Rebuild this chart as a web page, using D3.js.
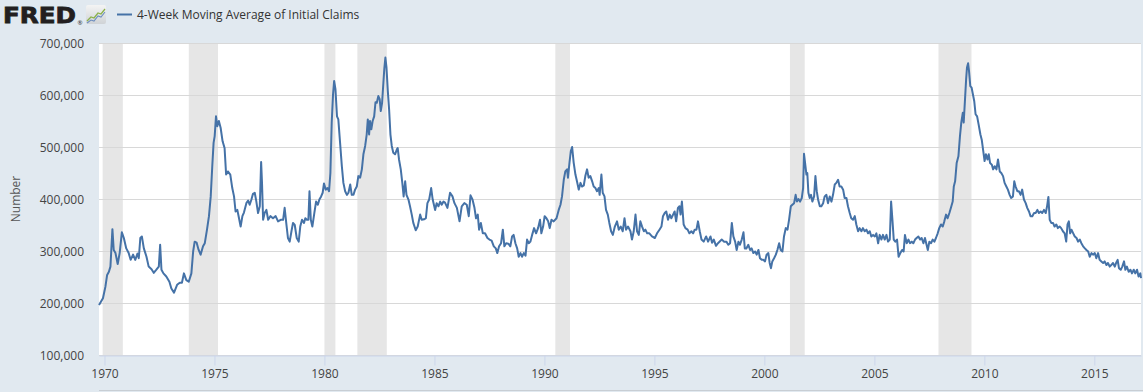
<!DOCTYPE html>
<html>
<head>
<meta charset="utf-8">
<script src="https://cdn.jsdelivr.net/npm/d3@7"></script>
<style>
  html, body { margin: 0; padding: 0; background: #e1e9f0; }
  svg { display: block; font-family: "Open Sans", "DejaVu Sans", sans-serif; }
</style>
</head>
<body>
<svg id="chart" width="1143" height="392"></svg>
<script>
// ---------------- DATA ----------------
const seriesName = "4-Week Moving Average of Initial Claims";
const yAxisTitle = "Number";

// decimal year of observation
const obsYear = [
1969.75,1969.93,1970.04,1970.12,1970.2,1970.27,1970.36,1970.42,1970.5,1970.6,1970.69,1970.79,1970.88,1970.99,
1971.1,1971.19,1971.3,1971.4,1971.5,1971.56,1971.63,1971.7,1971.79,1971.91,
1972.01,1972.14,1972.24,1972.36,1972.47,1972.53,1972.59,1972.68,1972.81,1972.95,
1973.04,1973.16,1973.3,1973.42,1973.52,1973.61,1973.72,1973.83,1973.95,
1974.03,1974.1,1974.19,1974.28,1974.37,1974.48,1974.56,1974.66,1974.75,1974.83,1974.9,1974.96,
1975.01,1975.07,1975.13,1975.2,1975.28,1975.37,1975.46,1975.53,1975.61,1975.72,1975.81,1975.89,1975.96,
1976.04,1976.13,1976.19,1976.27,1976.34,1976.45,1976.53,1976.6,1976.68,1976.75,1976.83,1976.9,1976.98,
1977.06,1977.12,1977.16,1977.21,1977.28,1977.36,1977.44,1977.54,1977.66,1977.78,1977.89,
1978.01,1978.12,1978.19,1978.27,1978.34,1978.42,1978.5,1978.57,1978.65,1978.74,1978.83,1978.9,1978.98,
1979.07,1979.13,1979.2,1979.27,1979.32,1979.38,1979.45,1979.54,1979.62,1979.7,1979.77,1979.85,1979.92,1979.98,
1980.06,1980.14,1980.21,1980.27,1980.33,1980.39,1980.44,1980.5,1980.57,1980.63,1980.71,1980.79,1980.86,1980.94,
1981.02,1981.09,1981.17,1981.24,1981.32,1981.39,1981.47,1981.54,1981.62,1981.7,1981.77,1981.85,1981.92,1981.97,
1982.03,1982.07,1982.13,1982.19,1982.26,1982.32,1982.38,1982.45,1982.51,1982.56,1982.62,1982.68,1982.72,1982.77,1982.82,1982.88,1982.94,
1983.0,1983.06,1983.13,1983.21,1983.29,1983.33,1983.39,1983.47,1983.54,1983.6,1983.67,1983.73,1983.82,1983.89,1983.97,
1984.04,1984.15,1984.24,1984.35,1984.42,1984.53,1984.61,1984.68,1984.76,1984.85,1984.92,
1985.03,1985.1,1985.18,1985.26,1985.33,1985.41,1985.48,1985.59,1985.71,1985.82,1985.91,
1986.02,1986.14,1986.24,1986.36,1986.47,1986.56,1986.64,1986.73,1986.82,1986.89,1986.97,
1987.03,1987.11,1987.2,1987.3,1987.41,1987.5,1987.6,1987.7,1987.79,1987.86,1987.94,
1988.03,1988.11,1988.18,1988.26,1988.36,1988.45,1988.53,1988.6,1988.68,1988.76,1988.83,1988.91,1988.98,
1989.06,1989.14,1989.21,1989.29,1989.36,1989.44,1989.53,1989.62,1989.71,1989.8,1989.86,1989.94,
1990.01,1990.09,1990.17,1990.24,1990.32,1990.42,1990.55,1990.65,1990.73,1990.8,1990.88,1990.95,
1991.03,1991.07,1991.14,1991.2,1991.26,1991.33,1991.41,1991.48,1991.56,1991.64,1991.71,1991.79,1991.86,1991.94,
1992.01,1992.09,1992.17,1992.24,1992.32,1992.39,1992.47,1992.51,1992.59,1992.65,1992.73,1992.8,1992.88,1992.95,
1993.03,1993.11,1993.2,1993.3,1993.38,1993.47,1993.56,1993.64,1993.71,1993.8,1993.91,1993.98,
1994.06,1994.14,1994.21,1994.29,1994.36,1994.44,1994.52,1994.59,1994.67,1994.77,1994.89,
1995.02,1995.12,1995.23,1995.32,1995.39,1995.47,1995.54,1995.62,1995.7,1995.77,1995.85,1995.92,1995.99,
1996.07,1996.14,1996.19,1996.25,1996.33,1996.41,1996.51,1996.59,1996.68,1996.76,1996.83,1996.91,1996.98,
1997.06,1997.14,1997.24,1997.35,1997.44,1997.55,1997.62,1997.7,1997.8,1997.89,
1998.06,1998.17,1998.27,1998.36,1998.44,1998.52,1998.59,1998.67,1998.74,1998.82,1998.89,1998.97,
1999.05,1999.11,1999.18,1999.27,1999.35,1999.42,1999.5,1999.58,1999.65,1999.73,1999.8,1999.88,1999.95,
2000.03,2000.1,2000.18,2000.24,2000.3,2000.36,2000.44,2000.52,2000.59,2000.67,2000.74,2000.82,2000.89,2000.97,
2001.05,2001.12,2001.2,2001.27,2001.35,2001.42,2001.48,2001.55,2001.62,2001.7,2001.76,2001.8,2001.85,2001.91,2001.95,
2002.0,2002.06,2002.12,2002.18,2002.26,2002.32,2002.38,2002.44,2002.52,2002.59,2002.67,2002.74,2002.82,2002.89,2002.97,
2003.05,2003.12,2003.2,2003.27,2003.35,2003.42,2003.5,2003.58,2003.65,2003.73,2003.8,2003.88,2003.95,
2004.03,2004.11,2004.18,2004.26,2004.33,2004.41,2004.48,2004.56,2004.64,2004.71,2004.79,2004.86,2004.94,
2005.02,2005.09,2005.17,2005.24,2005.32,2005.39,2005.47,2005.55,2005.62,2005.7,2005.76,2005.82,2005.88,2005.95,
2006.03,2006.1,2006.18,2006.26,2006.33,2006.39,2006.47,2006.55,2006.62,2006.7,2006.77,2006.85,2006.92,
2007.0,2007.08,2007.15,2007.23,2007.3,2007.43,2007.5,2007.58,2007.65,2007.73,2007.8,2007.88,2007.95,
2008.03,2008.11,2008.18,2008.26,2008.33,2008.41,2008.48,2008.56,2008.61,2008.67,2008.74,2008.82,2008.89,2008.95,
2009.02,2009.06,2009.12,2009.17,2009.21,2009.26,2009.3,2009.36,2009.42,2009.48,2009.54,2009.6,2009.67,2009.74,2009.82,2009.88,2009.95,
2010.01,2010.07,2010.14,2010.2,2010.26,2010.34,2010.4,2010.47,2010.55,2010.62,2010.7,2010.77,2010.85,2010.92,
2011.0,2011.07,2011.15,2011.22,2011.3,2011.36,2011.42,2011.5,2011.57,2011.65,2011.72,2011.8,2011.88,2011.95,
2012.03,2012.1,2012.18,2012.26,2012.33,2012.41,2012.48,2012.56,2012.63,2012.71,2012.79,2012.85,2012.91,2012.97,
2013.04,2013.12,2013.19,2013.27,2013.34,2013.42,2013.49,2013.57,2013.65,2013.72,2013.78,2013.84,2013.9,2013.96,
2014.04,2014.11,2014.19,2014.26,2014.34,2014.41,2014.49,2014.57,2014.64,2014.72,2014.79,2014.87,2014.94,
2015.02,2015.09,2015.17,2015.24,2015.32,2015.4,2015.47,2015.55,2015.62,2015.7,2015.77,2015.85,2015.93,
2016.0,2016.06,2016.12,2016.2,2016.27,2016.35,2016.41,2016.48,2016.56,2016.64,2016.71,2016.79,2016.86,2016.94,
2017.01,2017.09,2017.12
];

// 4-week moving average of initial claims, thousands
const claimsK = [
196,209,231,254,260,270,342,302,296,275,296,336,325,305,
296,283,293,283,295,286,325,328,305,289,
270,265,258,264,270,312,264,257,251,241,
228,220,235,239,239,257,244,241,257,
299,318,316,302,293,309,315,341,367,405,463,508,
521,559,540,550,537,511,498,447,453,447,421,405,376,
379,360,347,367,374,392,397,389,399,410,412,396,373,
386,471,431,360,373,379,360,367,363,367,357,
360,360,383,351,325,318,338,354,350,325,318,347,360,
354,363,360,360,415,360,347,373,395,389,399,405,412,430,
418,421,415,450,547,601,627,611,559,553,508,463,431,415,
408,412,428,408,408,418,424,444,441,457,486,502,524,553,
524,550,534,550,559,586,585,598,592,569,585,624,650,672,653,608,572,
524,502,489,486,495,498,476,457,431,405,434,408,399,386,370,
354,340,347,370,360,361,363,392,399,421,399,
379,392,386,395,389,395,393,383,412,405,392,
383,357,386,392,389,367,407,399,383,363,370,
341,354,334,334,325,322,320,309,305,296,309,
315,341,309,315,314,309,328,331,315,305,289,296,289,
296,291,322,315,318,331,344,334,344,360,334,347,
367,363,357,344,360,357,363,379,389,405,437,453,
457,441,470,492,500,470,447,434,418,431,424,426,444,457,
441,444,434,424,421,415,421,408,447,412,405,379,370,354,
338,331,347,357,341,347,338,363,341,347,338,322,
338,370,338,331,357,347,338,341,334,334,328,
325,334,341,347,367,373,376,360,370,363,370,376,357,
383,386,370,395,351,344,341,334,338,334,341,341,357,
338,322,318,328,318,328,316,322,310,315,
322,318,318,312,315,354,328,318,302,318,312,322,
336,305,305,312,302,305,296,299,293,302,286,283,283,
280,293,296,277,267,280,286,293,302,315,302,299,328,344,
341,360,386,389,392,408,395,400,395,402,421,487,469,447,450,
412,402,408,395,405,444,415,399,386,386,392,405,408,392,405,
395,408,428,431,437,424,424,418,402,402,386,373,363,
360,367,351,338,344,338,344,338,341,334,338,328,331,
328,334,315,331,322,331,322,331,318,322,395,360,322,318,
322,289,296,302,299,331,315,322,315,318,315,322,325,
328,322,325,315,325,302,318,315,322,318,325,334,344,
351,347,357,370,363,373,383,395,424,434,469,482,521,547,
566,547,592,630,653,661,647,617,614,601,588,563,559,543,524,514,492,
473,486,476,486,469,466,457,463,457,476,453,450,444,431,
424,418,408,402,405,434,424,415,415,408,418,399,392,383,
376,367,367,373,373,379,373,376,373,379,373,386,404,360,
354,354,347,351,344,347,344,338,334,318,351,357,334,341,
334,328,325,318,322,315,309,305,302,299,289,296,293,
296,286,296,283,280,277,280,273,277,270,273,277,270,
278,283,267,264,270,280,264,270,260,264,257,264,257,264,
251,257,248
];

// NBER recessions (shaded)
const recessionStart = ["1969-12-01","1973-11-01","1980-01-01","1981-07-01","1990-07-01","2001-03-01","2007-12-01"];
const recessionEnd   = ["1970-11-01","1975-03-01","1980-07-01","1982-11-01","1991-03-01","2001-11-01","2009-06-01"];

const xTickYears  = [1970,1975,1980,1985,1990,1995,2000,2005,2010,2015];
const yTickValues = [100000,200000,300000,400000,500000,600000,700000];

// ---------------- DRAW ----------------
function yearToDate(y) {
  const yr = Math.floor(y);
  const a = Date.UTC(yr, 0, 1), b = Date.UTC(yr + 1, 0, 1);
  return new Date(a + (y - yr) * (b - a));
}
const data = obsYear.map((y, i) => ({ date: yearToDate(y), value: claimsK[i] * 1000 }));
const recessions = recessionStart.map((s, i) => ({ start: new Date(s + "T00:00:00Z"), end: new Date(recessionEnd[i] + "T00:00:00Z") }));

const W = 1143, H = 392;
const plot = { left: 99, right: 1141, top: 43, bottom: 355 };

const svg = d3.select("#chart");
svg.append("rect").attr("width", W).attr("height", H).attr("fill", "#e1e9f0");

const x = d3.scaleUtc()
  .domain(d3.extent(data, d => d.date))
  .range([plot.left, plot.right]);
const y = d3.scaleLinear()
  .domain([100000, 700000])
  .range([plot.bottom, plot.top]);

// plot background
svg.append("rect")
  .attr("x", plot.left).attr("y", plot.top)
  .attr("width", plot.right - plot.left).attr("height", plot.bottom - plot.top)
  .attr("fill", "#ffffff");

// recession shading
svg.append("g").selectAll("rect").data(recessions).join("rect")
  .attr("x", d => x(d.start))
  .attr("width", d => x(d.end) - x(d.start))
  .attr("y", plot.top)
  .attr("height", plot.bottom - plot.top)
  .attr("fill", "#e6e6e6");

// gridlines
svg.append("g").selectAll("line").data(yTickValues).join("line")
  .attr("x1", plot.left).attr("x2", plot.right)
  .attr("y1", d => Math.round(y(d)) + 0.5).attr("y2", d => Math.round(y(d)) + 0.5)
  .attr("stroke", "#d8d8d8").attr("stroke-width", 1);

// y axis labels
const fmt = d3.format(",");
svg.append("g").selectAll("text").data(yTickValues).join("text")
  .attr("x", 84)
  .attr("y", d => y(d) + 4.5)
  .attr("text-anchor", "end")
  .attr("font-size", 12)
  .attr("fill", "#444")
  .text(d => fmt(d));

// y axis title
svg.append("text")
  .attr("transform", `translate(20,${(plot.top + plot.bottom) / 2}) rotate(-90)`)
  .attr("text-anchor", "middle")
  .attr("font-size", 12)
  .attr("fill", "#555")
  .text(yAxisTitle);

// x axis
const xTickDates = xTickYears.map(yr => new Date(Date.UTC(yr, 0, 1)));
const xAxis = d3.axisBottom(x)
  .tickValues(xTickDates)
  .tickSize(10)
  .tickSizeOuter(0)
  .tickPadding(4)
  .tickFormat(d3.utcFormat("%Y"));
const gx = svg.append("g")
  .attr("transform", `translate(0,${plot.bottom + 0.5})`)
  .call(xAxis);
gx.select(".domain").attr("stroke", "#ccd6eb");
gx.selectAll(".tick line").attr("stroke", "#ccd6eb");
gx.selectAll(".tick text")
  .attr("font-family", "'Open Sans', sans-serif")
  .attr("font-size", 12)
  .attr("fill", "#444");

// series line
const line = d3.line()
  .x(d => x(d.date))
  .y(d => y(d.value));
svg.append("path")
  .datum(data)
  .attr("d", line)
  .attr("fill", "none")
  .attr("stroke", "#4572a7")
  .attr("stroke-width", 2)
  .attr("stroke-linejoin", "round");

// bottom navigator edge
svg.append("line")
  .attr("x1", plot.left).attr("x2", W)
  .attr("y1", 390.5).attr("y2", 390.5)
  .attr("stroke", "#c8ced4").attr("stroke-width", 1);

// ---------- header: FRED logo + legend ----------
svg.append("text")
  .attr("x", 3).attr("y", 23)
  .attr("font-family", "'DejaVu Sans', sans-serif")
  .attr("font-weight", "bold")
  .attr("font-size", 22)
  .attr("textLength", 73)
  .attr("lengthAdjust", "spacingAndGlyphs")
  .attr("fill", "#231f20")
  .attr("stroke", "#231f20")
  .attr("stroke-width", 0.8)
  .text("FRED");
svg.append("text")
  .attr("x", 77.5).attr("y", 25)
  .attr("font-size", 6)
  .attr("fill", "#231f20")
  .text("®");

const icon = svg.append("g").attr("transform", "translate(86,5)");
const grad = svg.append("defs").append("linearGradient")
  .attr("id", "iconGrad").attr("x1", 0).attr("y1", 0).attr("x2", 0).attr("y2", 1);
grad.append("stop").attr("offset", "0%").attr("stop-color", "#f4f4f4");
grad.append("stop").attr("offset", "100%").attr("stop-color", "#cfd3d6");
icon.append("rect").attr("width", 20).attr("height", 19).attr("rx", 2).attr("fill", "url(#iconGrad)");
icon.append("polyline")
  .attr("points", "1,16 5,12 8,13 12,8 15,9 19,4")
  .attr("fill", "none").attr("stroke", "#8bb24a").attr("stroke-width", 1.3);
icon.append("polyline")
  .attr("points", "1,18 5,15 8,16 12,11 15,12 19,7")
  .attr("fill", "none").attr("stroke", "#6d8fc0").attr("stroke-width", 1.1);

svg.append("line")
  .attr("x1", 117).attr("x2", 132)
  .attr("y1", 14.5).attr("y2", 14.5)
  .attr("stroke", "#4572a7").attr("stroke-width", 2);
svg.append("text")
  .attr("x", 137).attr("y", 18.5)
  .attr("font-size", 12)
  .attr("fill", "#333")
  .text(seriesName);
</script>
</body>
</html>
